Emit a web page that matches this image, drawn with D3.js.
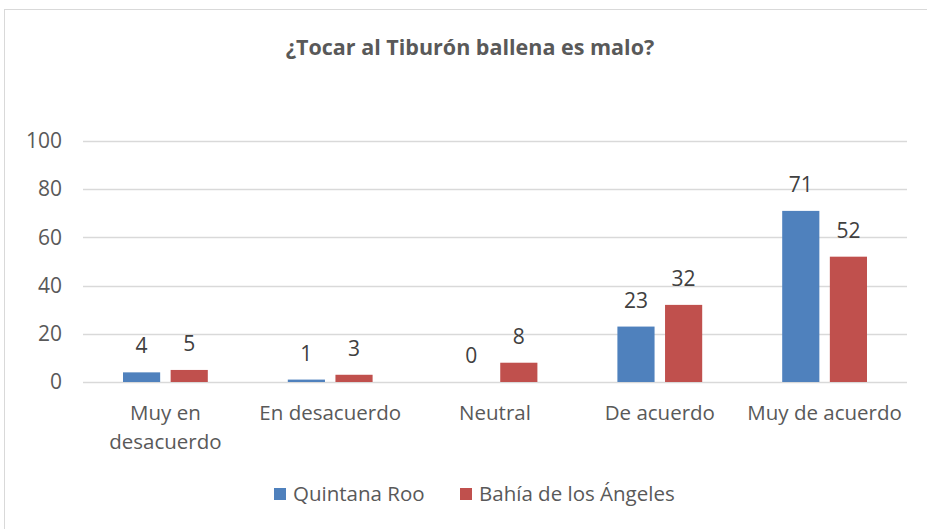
<!DOCTYPE html>
<html>
<head>
<meta charset="utf-8">
<script src="https://cdn.jsdelivr.net/npm/d3@7"></script>
<style>
  body { margin: 0; background: #fff; }
  text { font-family: "Open Sans", sans-serif; }
</style>
</head>
<body>
<svg id="chart"></svg>
<script>
const categories = ["Muy en desacuerdo", "En desacuerdo", "Neutral", "De acuerdo", "Muy de acuerdo"];
const categoryLines = [["Muy en", "desacuerdo"], ["En desacuerdo"], ["Neutral"], ["De acuerdo"], ["Muy de acuerdo"]];
const seriesNames = ["Quintana Roo", "Bahía de los Ángeles"];
const quintanaRoo = [4, 1, 0, 23, 71];
const bahiaAngeles = [5, 3, 8, 32, 52];
const yTicks = [0, 20, 40, 60, 80, 100];
const colors = ["#4f81bd", "#c0504d"];

const W = 927, H = 529;
const margin = { top: 141, right: 20, bottom: 147, left: 83 };
const width = 907 - margin.left,
      height = 382 - margin.top;

const svg = d3.select("#chart").attr("width", W).attr("height", H);

// chart border
svg.append("rect")
    .attr("x", 4.5).attr("y", 9.5)
    .attr("width", W + 10).attr("height", H)
    .attr("fill", "#fff")
    .attr("stroke", "#d9d9d9");

svg.append("text")
    .attr("x", 470)
    .attr("y", 55)
    .attr("text-anchor", "middle")
    .style("font-size", "21.5px")
    .style("font-weight", "bold")
    .style("fill", "#595959")
    .text("¿Tocar al Tiburón ballena es malo?");

const g = svg.append("g").attr("transform", `translate(${margin.left},${margin.top})`);

const x0 = d3.scaleBand().domain(categories).range([0, width]);
const x1 = d3.scaleBand().domain(seriesNames).range([40, x0.bandwidth() - 40]).paddingInner(0.22);
const y = d3.scaleLinear().domain([0, 100]).range([height, 0]);

// gridlines
g.append("g")
    .selectAll("line")
    .data(yTicks)
    .join("line")
    .attr("x1", 0).attr("x2", width)
    .attr("y1", d => Math.round(y(d)) + 0.5)
    .attr("y2", d => Math.round(y(d)) + 0.5)
    .attr("stroke", "#d9d9d9")
    .attr("stroke-width", 1.3);

const yAxis = g.append("g")
    .call(d3.axisLeft(y).tickValues(yTicks).tickSize(0).tickPadding(21));
yAxis.select(".domain").remove();
yAxis.selectAll("text")
    .style("font-size", "21px")
    .style("font-family", "Open Sans, sans-serif")
    .attr("fill", "#595959");

const data = categories.map((c, i) => ({
    cat: c,
    values: [
        { series: seriesNames[0], value: quintanaRoo[i] },
        { series: seriesNames[1], value: bahiaAngeles[i] }
    ]
}));

const groups = g.selectAll(".grp")
    .data(data)
    .join("g")
    .attr("class", "grp")
    .attr("transform", d => `translate(${x0(d.cat)},0)`);

groups.selectAll("rect")
    .data(d => d.values)
    .join("rect")
    .attr("x", d => x1(d.series))
    .attr("y", d => y(d.value))
    .attr("width", x1.bandwidth())
    .attr("height", d => height - y(d.value))
    .attr("fill", (d, i) => colors[i]);

groups.selectAll(".lbl")
    .data(d => d.values)
    .join("text")
    .attr("class", "lbl")
    .attr("x", d => x1(d.series) + x1.bandwidth() / 2)
    .attr("y", d => y(d.value) - 19)
    .attr("text-anchor", "middle")
    .style("font-size", "21px")
    .style("fill", "#404040")
    .text(d => d.value);

// category labels
groups.append("text")
    .attr("text-anchor", "middle")
    .attr("x", x0.bandwidth() / 2)
    .attr("y", height + 38)
    .style("font-size", "20.5px")
    .style("fill", "#595959")
    .selectAll("tspan")
    .data((d, i) => categoryLines[i])
    .join("tspan")
    .attr("x", x0.bandwidth() / 2)
    .attr("dy", (d, i) => i === 0 ? 0 : 29)
    .text(d => d);

// legend
const legendX = [274, 460];
const legend = svg.append("g");
seriesNames.forEach((name, i) => {
    legend.append("rect")
        .attr("x", legendX[i]).attr("y", 488)
        .attr("width", 12).attr("height", 12)
        .attr("fill", colors[i]);
    legend.append("text")
        .attr("x", legendX[i] + 19).attr("y", 501)
        .style("font-size", "20.5px")
        .style("fill", "#595959")
        .text(name);
});
</script>
</body>
</html>
